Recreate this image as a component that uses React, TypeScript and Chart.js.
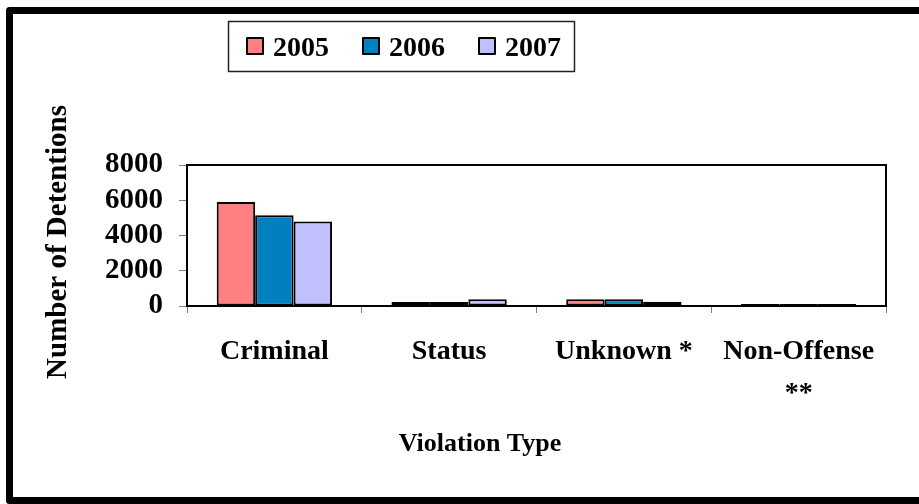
import React, { useEffect, useRef } from "react";
import { Chart, registerables } from "chart.js";

Chart.register(...registerables);

const categories: (string | string[])[] = ["Criminal", "Status", "Unknown *", ["Non-Offense", "**"]];
const seriesNames = ["2005", "2006", "2007"];
const values2005 = [5900, 230, 380, 120];
const values2006 = [5150, 230, 380, 120];
const values2007 = [4800, 380, 240, 110];
const yTicks = [0, 2000, 4000, 6000, 8000];
const xTitle = "Violation Type";
const yTitle = "Number of Detentions";

const colors = ["#FF8080", "#0080C0", "#C0C0FF"];
const FONT = "'Liberation Serif', 'Times New Roman', serif";

const decorPlugin = {
  id: "decor",
  beforeDraw(chart: any) {
    const ctx = chart.ctx;
    ctx.save();
    ctx.fillStyle = "#ffffff";
    ctx.fillRect(0, 0, chart.width, chart.height);
    ctx.restore();
  },
  afterDraw(chart: any) {
    const ctx = chart.ctx;
    const a = chart.chartArea;
    ctx.save();
    // plot border
    ctx.strokeStyle = "#000";
    ctx.lineWidth = 2;
    ctx.strokeRect(a.left, a.top, a.right - a.left, a.bottom - a.top);
    // outer frame
    ctx.lineWidth = 7;
    ctx.lineJoin = "round";
    ctx.strokeRect(9.5, 10.5, 930, 490);
    // legend
    ctx.lineWidth = 1.5;
    ctx.strokeStyle = "#222";
    ctx.strokeRect(228.5, 21.5, 346, 50);
    chart.data.datasets.forEach((ds: any, i: number) => {
      const x = 247 + 116 * i;
      ctx.fillStyle = ds.backgroundColor;
      ctx.fillRect(x, 38, 16, 16);
      ctx.strokeStyle = "#000";
      ctx.lineWidth = 2;
      ctx.strokeRect(x, 38, 16, 16);
      ctx.fillStyle = "#000";
      ctx.font = `bold 28px ${FONT}`;
      ctx.textBaseline = "alphabetic";
      ctx.textAlign = "left";
      ctx.fillText(ds.label, x + 26, 56);
    });
    // axis titles
    ctx.fillStyle = "#000";
    ctx.font = `bold 26px ${FONT}`;
    ctx.textAlign = "center";
    ctx.textBaseline = "middle";
    ctx.fillText(xTitle, 480, 444);
    ctx.translate(59, 242);
    ctx.rotate(-Math.PI / 2);
    ctx.font = `bold 29px ${FONT}`;
    ctx.fillText(yTitle, 0, 0);
    ctx.restore();
  },
};

export default function App() {
  const ref = useRef<HTMLCanvasElement | null>(null);
  useEffect(() => {
    if (!ref.current) return;
    const series = [values2005, values2006, values2007];
    const chart = new Chart(ref.current, {
      type: "bar",
      data: {
        labels: categories,
        datasets: series.map((vals, i) => ({
          label: seriesNames[i],
          data: vals,
          backgroundColor: colors[i],
          borderColor: "#000",
          borderWidth: 2,
          borderSkipped: false,
          categoryPercentage: 0.66,
          barPercentage: 1,
        })),
      },
      options: {
        animation: false,
        responsive: false,
        layout: { padding: { top: 165, right: 33, left: 0, bottom: 0 } },
        plugins: { legend: { display: false }, tooltip: { enabled: false }, title: { display: false } },
        scales: {
          x: {
            afterFit: (s: any) => { s.height = 198; },
            grid: { display: true, drawOnChartArea: false, drawTicks: true, tickLength: 7, color: "#808080", offset: true },
            border: { display: true, color: "#000", width: 2 },
            ticks: {
              color: "#000",
              font: { family: FONT, size: 28, weight: "bold", lineHeight: 1.5 },
              padding: 18,
              maxRotation: 0,
              autoSkip: false,
            },
          },
          y: {
            min: 0,
            max: 8000,
            afterFit: (s: any) => { s.width = 187; },
            afterBuildTicks: (s: any) => { s.ticks = yTicks.map((v) => ({ value: v })); },
            grid: { display: true, drawOnChartArea: false, drawTicks: true, tickLength: 8, color: "#808080" },
            border: { display: true, color: "#000", width: 2 },
            ticks: {
              color: "#000",
              font: { family: FONT, size: 29, weight: "bold" },
              padding: 16,
              autoSkip: false,
              callback: (v: any) => String(v),
            },
          },
        },
      },
      plugins: [decorPlugin],
    });
    return () => chart.destroy();
  }, []);
  return (
    <div style={{ position: "absolute", left: 0, top: 0, width: 919, height: 504 }}>
      <canvas ref={ref} width={919} height={504} />
    </div>
  );
}
